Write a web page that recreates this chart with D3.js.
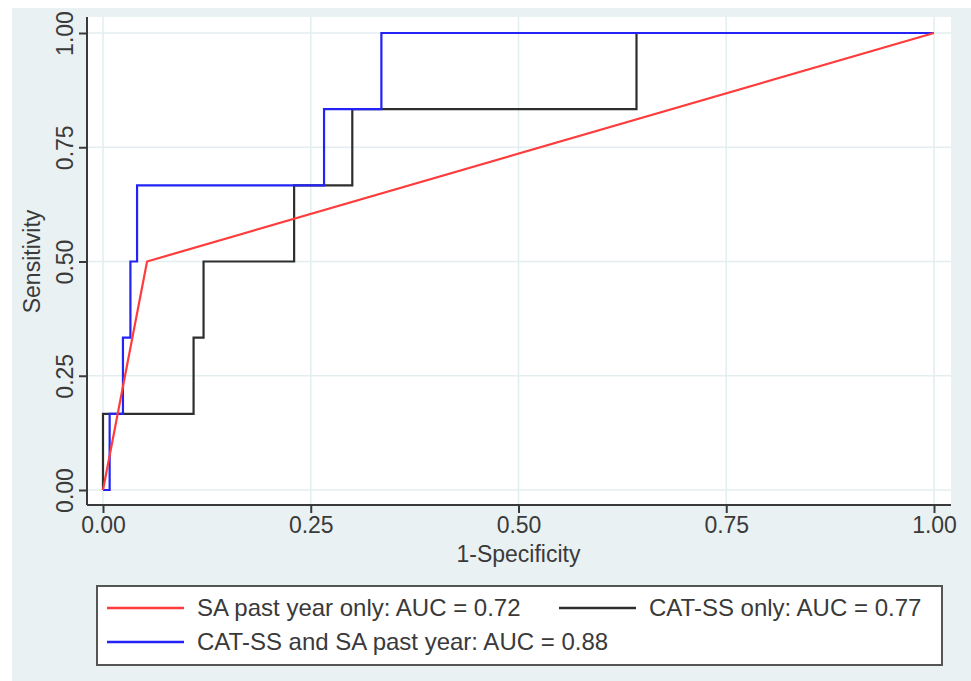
<!DOCTYPE html>
<html>
<head>
<meta charset="utf-8">
<script src="https://cdn.jsdelivr.net/npm/d3@7"></script>
<style>
  html, body { margin: 0; padding: 0; background: #ffffff; }
  svg { display: block; font-family: "Liberation Sans", Arial, sans-serif; }
</style>
</head>
<body>
<svg id="chart" width="971" height="681"></svg>
<script>
// ---- data ----
const ticks = [0, 0.25, 0.5, 0.75, 1];
const tickLabels = ["0.00", "0.25", "0.50", "0.75", "1.00"];

const redFpr = [0, 0.053, 1];
const redTpr = [0, 0.5, 1];

const blackFpr = [0, 0, 0.109, 0.109, 0.121, 0.121, 0.230, 0.230, 0.300, 0.300, 0.642, 0.642, 1];
const blackTpr = [0, 0.1667, 0.1667, 0.3333, 0.3333, 0.5, 0.5, 0.6667, 0.6667, 0.8333, 0.8333, 1, 1];

const blueFpr = [0, 0.008, 0.008, 0.024, 0.024, 0.033, 0.033, 0.041, 0.041, 0.266, 0.266, 0.335, 0.335, 1];
const blueTpr = [0, 0, 0.1667, 0.1667, 0.3333, 0.3333, 0.5, 0.5, 0.6667, 0.6667, 0.8333, 0.8333, 1, 1];

const seriesNames = ["SA past year only: AUC = 0.72", "CAT-SS only: AUC = 0.77", "CAT-SS and SA past year: AUC = 0.88"];
const seriesColors = ["#ff3b3b", "#2e2e2e", "#2323f5"];

// ---- chart ----
const svg = d3.select("#chart");
const textColor = "#3a3a3a";
const gridColor = "#e4eef1";
const FONT = "'Liberation Sans', Arial, sans-serif";

svg.append("rect").attr("x", 12).attr("y", 8).attr("width", 959).attr("height", 673).attr("fill", "#eaf1f3");
svg.append("rect").attr("x", 87).attr("y", 17).attr("width", 864).attr("height", 488).attr("fill", "#ffffff");

const x = d3.scaleLinear().domain([0, 1]).range([103, 934]);
const y = d3.scaleLinear().domain([0, 1]).range([490, 33]);

// gridlines
svg.append("g").selectAll("line").data(ticks).join("line")
  .attr("x1", d => x(d)).attr("x2", d => x(d)).attr("y1", 17).attr("y2", 505)
  .attr("stroke", gridColor).attr("stroke-width", 1.6);
svg.append("g").selectAll("line").data(ticks).join("line")
  .attr("y1", d => y(d)).attr("y2", d => y(d)).attr("x1", 87).attr("x2", 951)
  .attr("stroke", gridColor).attr("stroke-width", 1.6);

// axes
const xAxis = d3.axisBottom(x).tickValues(ticks).tickFormat((d, i) => tickLabels[i]).tickSize(8).tickPadding(4).tickSizeOuter(0);
const gx = svg.append("g").attr("transform", "translate(0,505)").call(xAxis);
gx.select(".domain").attr("d", "M87,0H951");
const yAxis = d3.axisLeft(y).tickValues(ticks).tickFormat((d, i) => tickLabels[i]).tickSize(8).tickPadding(4).tickSizeOuter(0);
const gy = svg.append("g").attr("transform", "translate(87,0)").call(yAxis);
gy.select(".domain").attr("d", "M0,17V505");

[gx, gy].forEach(g => {
  g.attr("font-size", null).attr("font-family", null);
  g.select(".domain").attr("stroke", "#3a3a3a").attr("stroke-width", 2);
  g.selectAll(".tick line").attr("stroke", "#3a3a3a").attr("stroke-width", 2);
  g.selectAll(".tick text").attr("fill", textColor).style("font-size", "23px").style("font-family", FONT);
});
gy.selectAll(".tick").each(function(d) {
  const t = d3.select(this);
  t.select("text")
    .attr("x", 0).attr("y", 0).attr("dy", "0")
    .attr("text-anchor", "middle")
    .attr("transform", "translate(-14,0) rotate(-90)");
});

// axis titles
svg.append("text").attr("x", (x(0) + x(1)) / 2).attr("y", 562).attr("text-anchor", "middle")
  .attr("fill", textColor).style("font-size", "23px").style("font-family", FONT).text("1-Specificity");
svg.append("text").attr("transform", "translate(40," + ((y(0) + y(1)) / 2) + ") rotate(-90)")
  .attr("text-anchor", "middle").attr("fill", textColor).style("font-size", "23px").style("font-family", FONT).text("Sensitivity");

// lines
const makeLine = (fx, ty) => d3.line().x(d => x(d[0])).y(d => y(d[1]))(fx.map((v, i) => [v, ty[i]]));
const plots = [
  { fx: blackFpr, ty: blackTpr, c: seriesColors[1] },
  { fx: blueFpr, ty: blueTpr, c: seriesColors[2] },
  { fx: redFpr, ty: redTpr, c: seriesColors[0] }
];
plots.forEach(p => {
  svg.append("path").attr("d", makeLine(p.fx, p.ty)).attr("fill", "none")
    .attr("stroke", p.c).attr("stroke-width", 2.2).attr("stroke-linejoin", "miter");
});

// legend
svg.append("rect").attr("x", 97).attr("y", 586).attr("width", 845).attr("height", 79)
  .attr("fill", "#ffffff").attr("stroke", "#555").attr("stroke-width", 2);
const legItems = [
  { name: seriesNames[0], c: seriesColors[0], lx: 107, ly: 608 },
  { name: seriesNames[1], c: seriesColors[1], lx: 559, ly: 608 },
  { name: seriesNames[2], c: seriesColors[2], lx: 107, ly: 642 }
];
legItems.forEach(it => {
  svg.append("line").attr("x1", it.lx).attr("x2", it.lx + 77).attr("y1", it.ly).attr("y2", it.ly)
    .attr("stroke", it.c).attr("stroke-width", 2.5);
  svg.append("text").attr("x", it.lx + 90).attr("y", it.ly + 8).attr("fill", textColor)
    .style("font-size", "24px").style("font-family", FONT).text(it.name);
});
</script>
</body>
</html>
